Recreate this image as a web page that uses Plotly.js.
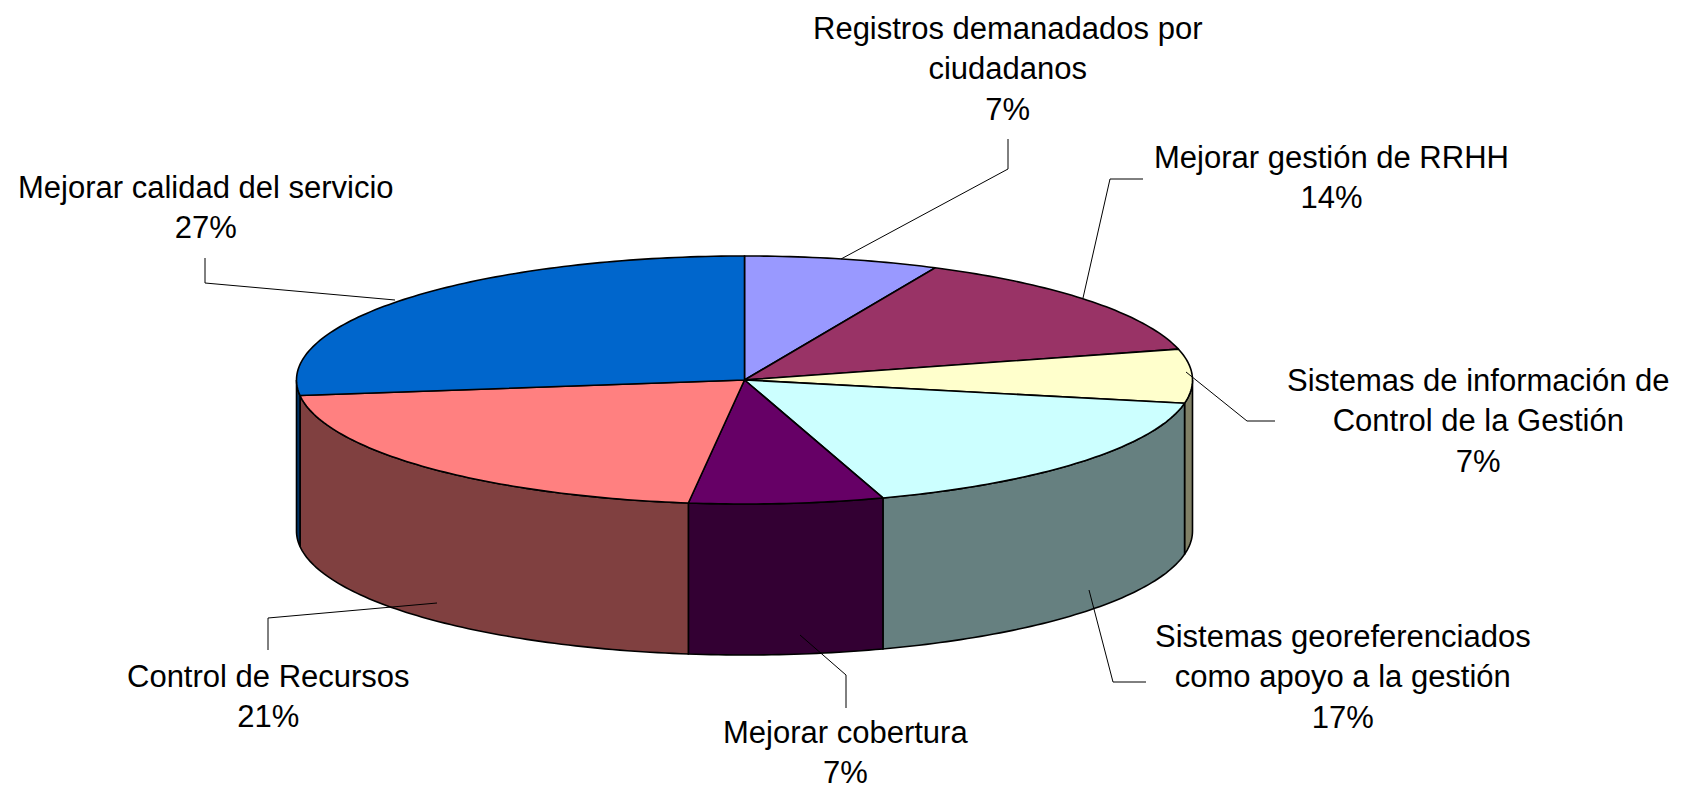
<!DOCTYPE html>
<html><head><meta charset="utf-8">
<script src="https://cdn.plot.ly/plotly-3.0.1.min.js"></script>
<style>html,body{margin:0;padding:0;background:#fff}#c{width:1691px;height:787px}</style>
</head><body><div id="c"></div>
<script>
const categories = ["Registros demanadados por<br>ciudadanos","Mejorar gestión de RRHH","Sistemas de información de<br>Control de la Gestión","Sistemas georeferenciados<br>como apoyo a la gestión","Mejorar cobertura","Control de Recursos","Mejorar calidad del servicio"];
const percents = [7,14,7,17,7,21,27];
const topColors = ["#9999FF","#993366","#FFFFCC","#CCFFFF","#660066","#FF8080","#0066CC"];
const sideColors = ["#4D4D80","#4D1A33","#808066","#668080","#330033","#804040","#003366"];

const cx=744.5, cy=380, rx=448, ry=124, depth=151;
const total = percents.reduce((a,b)=>a+b,0);
function pt(deg,dy){const r=deg*Math.PI/180;return [cx+rx*Math.sin(r),cy-ry*Math.cos(r)+dy];}
function arc(a,b,dy){const n=Math.max(2,Math.ceil(Math.abs(b-a)));const o=[];for(let i=0;i<=n;i++)o.push(pt(a+(b-a)*i/n,dy));return o;}
function poly(points,color,name){return {type:'scatter',mode:'lines',x:points.map(p=>p[0]),y:points.map(p=>p[1]),fill:'toself',fillcolor:color,line:{color:'#000',width:1.6,simplify:false},hoverinfo:'text',text:name,showlegend:false};}

const traces=[]; const tops=[]; let acc=0;
percents.forEach((v,i)=>{
  const a=acc/total*360, b=(acc+v)/total*360; acc+=v;
  // walls exist only on the front half (90..270 degrees)
  const s=Math.max(a,90), e=Math.min(b,270);
  if(e>s){traces.push(poly(arc(s,e,0).concat(arc(e,s,depth)).concat([pt(s,0)]),sideColors[i],categories[i]));}
  tops.push(poly([[cx,cy]].concat(arc(a,b,0)).concat([[cx,cy]]),topColors[i],categories[i]));
});
traces.push(...tops);

// leader lines [slice index, polyline] in page pixels
const leaders=[
 [[841,259],[1008,169],[1008,139]],
 [[1083,298],[1110,179],[1143,179]],
 [[1186,372],[1247,421],[1275,421]],
 [[1089,590],[1113,682],[1146,682]],
 [[800,635],[846,675],[846,708]],
 [[437,603],[268,618],[268,650]],
 [[395,300],[205,283],[205,258]]
];
leaders.forEach(l=>traces.push({type:'scatter',mode:'lines',x:l.map(p=>p[0]),y:l.map(p=>p[1]),line:{color:'#000',width:1},hoverinfo:'skip',showlegend:false}));

const labelPos=[[1007,69],[1331,177],[1478,421],[1343,677],[845,752],[268,696],[206,207]];
const annotations=categories.map((c,i)=>({xref:'x',yref:'y',x:labelPos[i][0],y:labelPos[i][1],text:c+'<br>'+percents[i]+'%',showarrow:false,xanchor:'center',yanchor:'middle',align:'center',font:{family:'"Liberation Sans",Arial,sans-serif',size:31,color:'#000'}}));

Plotly.newPlot('c',traces,{
  width:1691,height:787,margin:{l:0,r:0,t:0,b:0},paper_bgcolor:'#fff',plot_bgcolor:'#fff',showlegend:false,
  xaxis:{range:[0,1691],visible:false,fixedrange:true},
  yaxis:{range:[787,0],visible:false,fixedrange:true},
  annotations
},{displayModeBar:false,staticPlot:true});
</script></body></html>
